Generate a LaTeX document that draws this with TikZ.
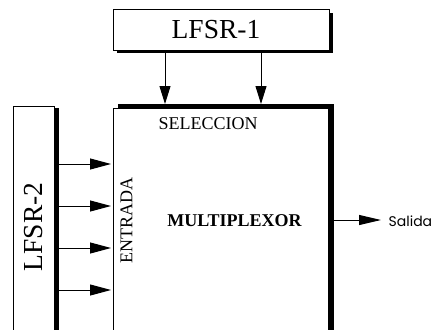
\documentclass[tikz,border=0pt]{standalone}
\usepackage{fontspec}
\setmainfont{Liberation Serif}
\newfontfamily\salfont{Poppins}
\usetikzlibrary{arrows.meta}
\begin{document}
\begin{tikzpicture}[x=1pt,y=-1pt,
  thinbox/.style={draw=black,line width=1pt,fill=white},
  conn/.style={line width=1pt,-{Triangle[length=21pt,width=11pt]}},
  vconn/.style={line width=1pt,-{Triangle[length=18pt,width=11pt]}},
  big/.style={font=\fontsize{27.5}{30}\selectfont,inner sep=0pt},
  mid/.style={font=\fontsize{18}{20}\selectfont,inner sep=0pt}]
\useasboundingbox (0,0) rectangle (435,329);
\begin{scope}
\clip (0,0) rectangle (435,329);
% LFSR-1
\fill[black] (117,13) rectangle (333,53);
\node[thinbox,minimum width=216pt,minimum height=41pt,anchor=north west,inner sep=0pt] (l1) at (113,9) {};
\node[big] (l1t) at (216,29.5) {LFSR-1};
% MUX
\node[thinbox,anchor=north west,minimum width=215pt,minimum height=240pt,inner sep=0pt] (mux) at (113,108) {};
\fill[black] (118,103.5) rectangle (334,108);
\fill[black] (328,103.5) rectangle (334,345);
% LFSR-2
\node[thinbox,anchor=north west,minimum width=41pt,minimum height=240pt,inner sep=0pt] (l2) at (13,106) {};
\fill[black] (54,108) rectangle (59,345);
\node[big,rotate=90] (l2t) at (34,227) {LFSR-2};
% connectors
\coordinate (a1s) at (165,53); \coordinate (a1e) at (165,104);
\coordinate (a2s) at (261,53); \coordinate (a2e) at (261,104);
\draw[vconn] (a1s) -- (a1e);
\draw[vconn] (a2s) -- (a2e);
\foreach \y/\n in {164/1,206/2,248/3,290/4}{
  \coordinate (s\n) at (59,\y);
  \coordinate (e\n) at (111,\y);
  \draw[conn] (s\n) -- (e\n);
}
% labels
\node[mid] (sel) at (208,124) {SELECCION};
\node[mid,rotate=90] (ent) at (126.5,220.5) {ENTRADA};
\node[mid,font=\fontsize{18}{20}\selectfont\bfseries] (mtx) at (234.5,221) {MULTIPLEXOR};
% output
\coordinate (os) at (330,220);
\coordinate (oe) at (381,220);
\draw[line width=1pt,-{Triangle[length=22pt,width=10pt]}] (os) -- (oe);
\node[inner sep=0pt,anchor=base west,font=\salfont\fontsize{14}{16}\selectfont] (sal) at (388.5,226.7) {Salida};
\end{scope}
\end{tikzpicture}
\end{document}
